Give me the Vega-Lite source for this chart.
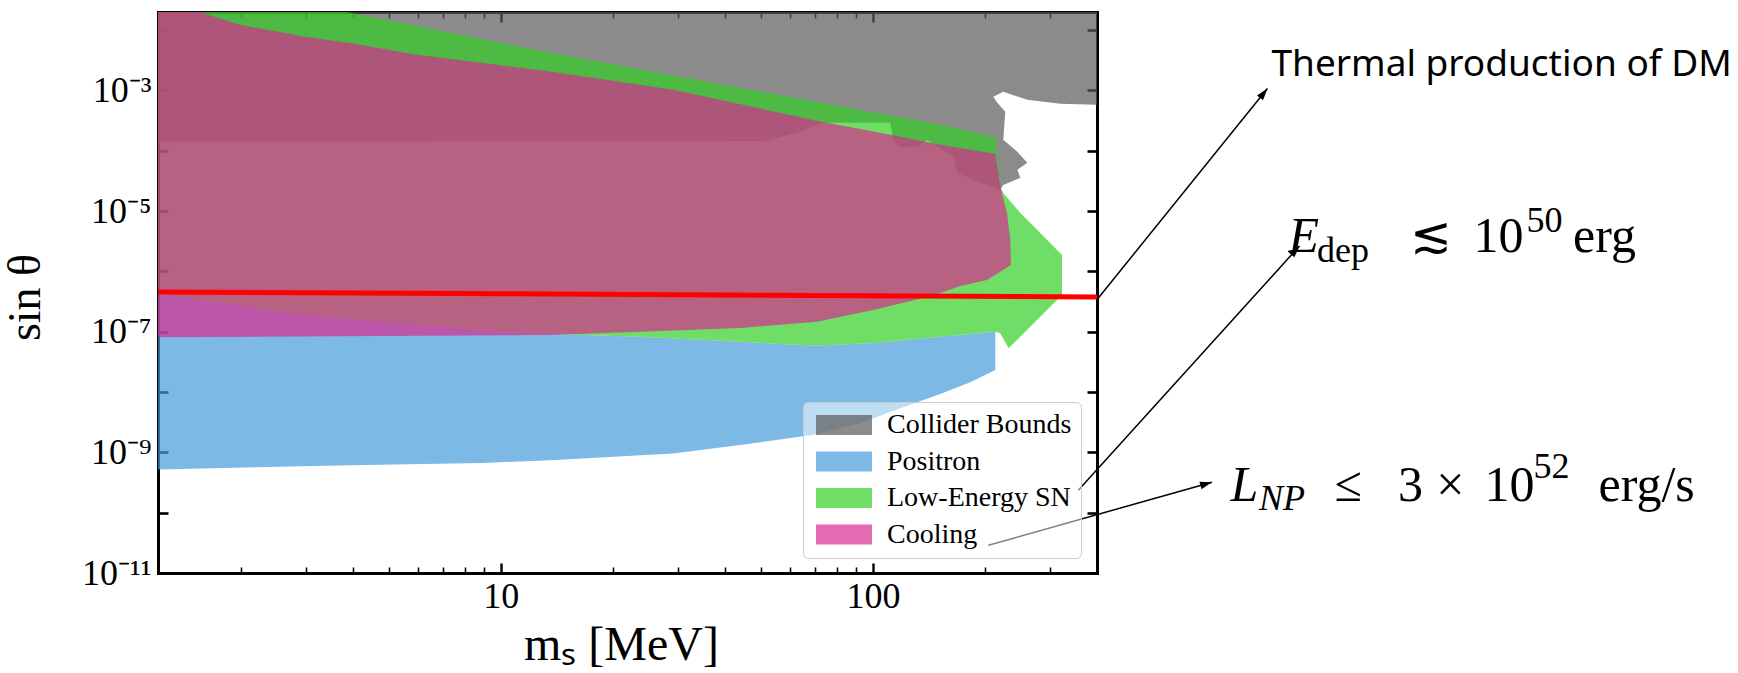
{
  "$schema": "https://vega.github.io/schema/vega-lite/v6.json",
  "width": 939,
  "height": 561,
  "autosize": "none",
  "padding": {"left": 158, "top": 12, "right": 641, "bottom": 100},
  "background": "white",
  "config": {
    "view": {"stroke": null},
    "axis": {
      "grid": false, "zindex": 1, "labelFont": "Liberation Serif", "titleFont": "Liberation Serif",
      "labelColor": "black", "titleColor": "black", "tickColor": "black", "domainColor": "black",
      "labelFlush": false, "labelOverlap": false, "titleFontWeight": "normal"
    }
  },
  "datasets": {
    "regions": [
      {"region": "Collider Bounds", "i": 0, "m": 1.0, "s": 0.05},
      {"region": "Collider Bounds", "i": 1, "m": 500, "s": 0.05},
      {"region": "Collider Bounds", "i": 2, "m": 500, "s": 5.57e-4},
      {"region": "Collider Bounds", "i": 3, "m": 318.8, "s": 6.02e-4},
      {"region": "Collider Bounds", "i": 4, "m": 259.9, "s": 7.01e-4},
      {"region": "Collider Bounds", "i": 5, "m": 224.0, "s": 9.52e-4},
      {"region": "Collider Bounds", "i": 6, "m": 210.6, "s": 7.86e-4},
      {"region": "Collider Bounds", "i": 7, "m": 215.9, "s": 6.25e-4},
      {"region": "Collider Bounds", "i": 8, "m": 226.8, "s": 4.43e-4},
      {"region": "Collider Bounds", "i": 9, "m": 224.0, "s": 1.52e-4},
      {"region": "Collider Bounds", "i": 10, "m": 244.3, "s": 9.61e-5},
      {"region": "Collider Bounds", "i": 11, "m": 259.9, "s": 6.31e-5},
      {"region": "Collider Bounds", "i": 12, "m": 244.3, "s": 4.83e-5},
      {"region": "Collider Bounds", "i": 13, "m": 248.9, "s": 3.56e-5},
      {"region": "Collider Bounds", "i": 14, "m": 224.0, "s": 2.72e-5},
      {"region": "Collider Bounds", "i": 15, "m": 219.9, "s": 2.25e-5},
      {"region": "Collider Bounds", "i": 16, "m": 190.8, "s": 3.05e-5},
      {"region": "Collider Bounds", "i": 17, "m": 168.5, "s": 4.31e-5},
      {"region": "Collider Bounds", "i": 18, "m": 164.4, "s": 7.93e-5},
      {"region": "Collider Bounds", "i": 19, "m": 140.0, "s": 1.52e-4},
      {"region": "Collider Bounds", "i": 20, "m": 131.6, "s": 1.12e-4},
      {"region": "Collider Bounds", "i": 21, "m": 118.4, "s": 1.16e-4},
      {"region": "Collider Bounds", "i": 22, "m": 113.4, "s": 1.52e-4},
      {"region": "Collider Bounds", "i": 23, "m": 111.3, "s": 2.91e-4},
      {"region": "Collider Bounds", "i": 24, "m": 73.5, "s": 2.91e-4},
      {"region": "Collider Bounds", "i": 25, "m": 63.8, "s": 2.06e-4},
      {"region": "Collider Bounds", "i": 26, "m": 51.7, "s": 1.46e-4},
      {"region": "Collider Bounds", "i": 27, "m": 1.0, "s": 1.42e-4},

      {"region": "Positron", "i": 0, "m": 1.0, "s": 4.2e-7},
      {"region": "Positron", "i": 1, "m": 1.2, "s": 4.2e-7},
      {"region": "Positron", "i": 2, "m": 3.01, "s": 1.89e-7},
      {"region": "Positron", "i": 3, "m": 10.0, "s": 1.0e-7},
      {"region": "Positron", "i": 4, "m": 13.57, "s": 9.16e-8},
      {"region": "Positron", "i": 5, "m": 23.7, "s": 8.26e-8},
      {"region": "Positron", "i": 6, "m": 44.0, "s": 6.82e-8},
      {"region": "Positron", "i": 7, "m": 70.7, "s": 5.86e-8},
      {"region": "Positron", "i": 8, "m": 100.2, "s": 6.49e-8},
      {"region": "Positron", "i": 9, "m": 151.7, "s": 8.26e-8},
      {"region": "Positron", "i": 10, "m": 213.2, "s": 1.0e-7},
      {"region": "Positron", "i": 11, "m": 213.2, "s": 2.31e-8},
      {"region": "Positron", "i": 12, "m": 182.6, "s": 1.46e-8},
      {"region": "Positron", "i": 13, "m": 151.7, "s": 9.25e-9},
      {"region": "Positron", "i": 14, "m": 118.4, "s": 5.41e-9},
      {"region": "Positron", "i": 15, "m": 92.4, "s": 3.05e-9},
      {"region": "Positron", "i": 16, "m": 70.7, "s": 2.0e-9},
      {"region": "Positron", "i": 17, "m": 44.0, "s": 1.32e-9},
      {"region": "Positron", "i": 18, "m": 29.05, "s": 9.59e-10},
      {"region": "Positron", "i": 19, "m": 13.57, "s": 7.42e-10},
      {"region": "Positron", "i": 20, "m": 8.96, "s": 6.69e-10},
      {"region": "Positron", "i": 21, "m": 3.93, "s": 6.13e-10},
      {"region": "Positron", "i": 22, "m": 1.0, "s": 5.07e-10},

      {"region": "Low-Energy SN", "i": 0, "m": 1.0, "s": 0.05},
      {"region": "Low-Energy SN", "i": 1, "m": 3.86, "s": 0.05},
      {"region": "Low-Energy SN", "i": 2, "m": 3.86, "s": 0.02},
      {"region": "Low-Energy SN", "i": 3, "m": 13.57, "s": 4.22e-3},
      {"region": "Low-Energy SN", "i": 4, "m": 151.7, "s": 2.70e-4},
      {"region": "Low-Energy SN", "i": 5, "m": 213.2, "s": 1.70e-4},
      {"region": "Low-Energy SN", "i": 6, "m": 219.9, "s": 2.52e-5},
      {"region": "Low-Energy SN", "i": 7, "m": 224.0, "s": 2.0e-5},
      {"region": "Low-Energy SN", "i": 8, "m": 248.9, "s": 9.34e-6},
      {"region": "Low-Energy SN", "i": 9, "m": 276.5, "s": 4.88e-6},
      {"region": "Low-Energy SN", "i": 10, "m": 322.2, "s": 1.87e-6},
      {"region": "Low-Energy SN", "i": 11, "m": 322.2, "s": 4.06e-7},
      {"region": "Low-Energy SN", "i": 12, "m": 231.4, "s": 5.30e-8},
      {"region": "Low-Energy SN", "i": 13, "m": 219.9, "s": 9.40e-8},
      {"region": "Low-Energy SN", "i": 14, "m": 213.2, "s": 1.0e-7},
      {"region": "Low-Energy SN", "i": 15, "m": 151.7, "s": 8.26e-8},
      {"region": "Low-Energy SN", "i": 16, "m": 100.2, "s": 6.49e-8},
      {"region": "Low-Energy SN", "i": 17, "m": 70.7, "s": 5.86e-8},
      {"region": "Low-Energy SN", "i": 18, "m": 44.0, "s": 6.82e-8},
      {"region": "Low-Energy SN", "i": 19, "m": 23.7, "s": 8.26e-8},
      {"region": "Low-Energy SN", "i": 20, "m": 13.57, "s": 9.16e-8},
      {"region": "Low-Energy SN", "i": 21, "m": 10.0, "s": 1.0e-7},
      {"region": "Low-Energy SN", "i": 22, "m": 3.01, "s": 1.89e-7},
      {"region": "Low-Energy SN", "i": 23, "m": 1.2, "s": 4.2e-7},
      {"region": "Low-Energy SN", "i": 24, "m": 1.0, "s": 4.2e-7},

      {"region": "Cooling", "i": 0, "m": 1.0, "s": 0.05},
      {"region": "Cooling", "i": 1, "m": 1.555, "s": 0.05},
      {"region": "Cooling", "i": 2, "m": 1.555, "s": 0.02},
      {"region": "Cooling", "i": 3, "m": 1.991, "s": 1.232e-2},
      {"region": "Cooling", "i": 4, "m": 3.01, "s": 7.69e-3},
      {"region": "Cooling", "i": 5, "m": 3.93, "s": 6.12e-3},
      {"region": "Cooling", "i": 6, "m": 5.946, "s": 3.91e-3},
      {"region": "Cooling", "i": 7, "m": 8.96, "s": 2.85e-3},
      {"region": "Cooling", "i": 8, "m": 13.57, "s": 2.07e-3},
      {"region": "Cooling", "i": 9, "m": 29.05, "s": 1.027e-3},
      {"region": "Cooling", "i": 10, "m": 72.2, "s": 3.06e-4},
      {"region": "Cooling", "i": 11, "m": 92.4, "s": 2.29e-4},
      {"region": "Cooling", "i": 12, "m": 111.3, "s": 1.84e-4},
      {"region": "Cooling", "i": 13, "m": 151.7, "s": 1.26e-4},
      {"region": "Cooling", "i": 14, "m": 213.2, "s": 8.90e-5},
      {"region": "Cooling", "i": 15, "m": 219.9, "s": 2.55e-5},
      {"region": "Cooling", "i": 16, "m": 229.2, "s": 9.34e-6},
      {"region": "Cooling", "i": 17, "m": 233.9, "s": 3.33e-6},
      {"region": "Cooling", "i": 18, "m": 234.9, "s": 1.28e-6},
      {"region": "Cooling", "i": 19, "m": 202.5, "s": 7.21e-7},
      {"region": "Cooling", "i": 20, "m": 171.7, "s": 5.73e-7},
      {"region": "Cooling", "i": 21, "m": 151.7, "s": 4.39e-7},
      {"region": "Cooling", "i": 22, "m": 136.6, "s": 3.62e-7},
      {"region": "Cooling", "i": 23, "m": 100.2, "s": 2.29e-7},
      {"region": "Cooling", "i": 24, "m": 70.7, "s": 1.47e-7},
      {"region": "Cooling", "i": 25, "m": 44.0, "s": 1.15e-7},
      {"region": "Cooling", "i": 26, "m": 23.7, "s": 1.0e-7},
      {"region": "Cooling", "i": 27, "m": 13.57, "s": 8.81e-8},
      {"region": "Cooling", "i": 28, "m": 1.0, "s": 8.01e-8}
    ],
    "thermal": [
      {"m": 1.2, "s": 4.56e-7},
      {"m": 400, "s": 3.77e-7}
    ],
    "arrows": [
      {"target": "Thermal production of DM", "m": 403.3, "s": 3.62e-7, "m2": 1148, "s2": 1.079e-3},
      {"target": "E_dep", "m": 356.3, "s": 2.36e-10, "m2": 1400, "s2": 2.645e-6},
      {"target": "L_NP", "m": 204.2, "s": 2.88e-11, "m2": 814.4, "s2": 3.2e-10}
    ],
    "sans": [
      {"text": "Thermal production of DM", "m": 1177, "s": 1.754e-3}
    ],
    "mathMain": [
      {"text": "≲", "m": 2782, "s": 2.1e-6},
      {"text": "10", "m": 4109, "s": 2.1e-6},
      {"text": "erg", "m": 7600, "s": 2.1e-6},
      {"text": "≤", "m": 1738, "s": 1.549e-10},
      {"text": "3", "m": 2575, "s": 1.549e-10},
      {"text": "×", "m": 3261, "s": 1.549e-10},
      {"text": "10", "m": 4399, "s": 1.549e-10},
      {"text": "erg/s", "m": 8900, "s": 1.549e-10}
    ],
    "mathItalic": [
      {"text": "E", "m": 1307.5, "s": 2.1e-6},
      {"text": "L", "m": 913, "s": 1.549e-10}
    ],
    "mathSub": [
      {"text": "dep", "m": 1560, "s": 1.435e-6}
    ],
    "mathSubItalic": [
      {"text": "NP", "m": 1090, "s": 1.098e-10}
    ],
    "mathSup": [
      {"text": "50", "m": 5705, "s": 4.52e-6},
      {"text": "52", "m": 5957, "s": 3.73e-10}
    ]
  },
  "resolve": {"axis": {"x": "independent", "y": "independent"}},
  "layer": [
    {
      "data": {"name": "regions"},
      "transform": [{"filter": "datum.region === 'Collider Bounds'"}],
      "mark": {"type": "line", "filled": true, "interpolate": "linear-closed", "opacity": 0.7, "strokeWidth": 0, "clip": true},
      "encoding": {
        "x": {"field": "m", "type": "quantitative", "scale": {"type": "log", "domain": [1.2, 400], "nice": false},
          "axis": {"orient": "bottom", "values": [10, 100], "ticks": false, "domain": true, "domainWidth": 3, "domainCap": "square",
            "labelFontSize": 36, "labelPadding": 6, "labelExpr": "datum.value < 50 ? '10' : '100'",
            "title": "mₛ [MeV]", "titleFontSize": 48, "titleX": 463, "titleY": 72, "titleBaseline": "middle", "titleAlign": "center"}},
        "y": {"field": "s", "type": "quantitative", "scale": {"type": "log", "domain": [1e-11, 0.02], "nice": false},
          "axis": {"orient": "left", "values": [1e-11, 1e-9, 1e-7, 1e-5, 1e-3], "ticks": false, "domain": true, "domainWidth": 3, "domainCap": "square",
            "labelFontSize": 36, "labelPadding": 7,
            "labelExpr": "datum.value < 2e-11 ? '10⁻¹¹' : datum.value < 2e-9 ? '10⁻⁹' : datum.value < 2e-7 ? '10⁻⁷' : datum.value < 2e-5 ? '10⁻⁵' : '10⁻³'",
            "title": "sin θ", "titleFontSize": 46, "titleX": -133, "titleY": 285, "titleAngle": -90, "titleBaseline": "middle", "titleAlign": "center"}},
        "order": {"field": "i", "type": "quantitative"},
        "color": {"field": "region", "type": "nominal",
          "scale": {"domain": ["Collider Bounds", "Positron", "Low-Energy SN", "Cooling"], "range": ["#5a5a5a", "#459bd8", "#33ce27", "#d52c90"]},
          "legend": {"orient": "none", "legendX": 645, "legendY": 390, "title": null,
            "symbolType": "M-1,-1L4.6,-1L4.6,1L-1,1Z", "symbolSize": 400, "symbolOpacity": 0.7, "symbolStrokeWidth": 0,
            "labelFont": "Liberation Serif", "labelFontSize": 28, "labelColor": "black", "labelOffset": 47, "labelLimit": 400,
            "rowPadding": 8.5, "padding": 9, "fillColor": "rgba(255,255,255,0.5)", "strokeColor": "#cccccc", "cornerRadius": 5}}
      }
    },
    {
      "data": {"name": "regions"},
      "transform": [{"filter": "datum.region === 'Positron'"}],
      "mark": {"type": "line", "filled": true, "interpolate": "linear-closed", "opacity": 0.7, "strokeWidth": 0, "clip": true},
      "encoding": {
        "x": {"field": "m", "type": "quantitative", "scale": {"type": "log", "domain": [1.2, 400], "nice": false},
          "axis": {"orient": "bottom", "values": [10, 100], "labels": false, "domain": false, "tickSize": -10, "tickWidth": 2.4, "title": null}},
        "y": {"field": "s", "type": "quantitative", "scale": {"type": "log", "domain": [1e-11, 0.02], "nice": false},
          "axis": {"orient": "left", "values": [1e-11, 1e-10, 1e-9, 1e-8, 1e-7, 1e-6, 1e-5, 1e-4, 1e-3, 1e-2], "labels": false, "domain": false, "tickSize": -10, "tickWidth": 2.6, "title": null}},
        "order": {"field": "i", "type": "quantitative"},
        "color": {"field": "region", "type": "nominal"}
      }
    },
    {
      "data": {"name": "regions"},
      "transform": [{"filter": "datum.region === 'Low-Energy SN'"}],
      "mark": {"type": "line", "filled": true, "interpolate": "linear-closed", "opacity": 0.7, "strokeWidth": 0, "clip": true},
      "encoding": {
        "x": {"field": "m", "type": "quantitative", "scale": {"type": "log", "domain": [1.2, 400], "nice": false},
          "axis": {"orient": "bottom", "values": [2, 3, 4, 5, 6, 7, 8, 9, 20, 30, 40, 50, 60, 70, 80, 90, 200, 300], "labels": false, "domain": false, "tickSize": -6, "tickWidth": 1.6, "title": null}},
        "y": {"field": "s", "type": "quantitative", "scale": {"type": "log", "domain": [1e-11, 0.02], "nice": false},
          "axis": {"orient": "right", "values": [1e-11, 1e-10, 1e-9, 1e-8, 1e-7, 1e-6, 1e-5, 1e-4, 1e-3, 1e-2], "labels": false, "domain": true, "domainWidth": 3, "domainCap": "square", "tickSize": -10, "tickWidth": 2.6, "title": null}},
        "order": {"field": "i", "type": "quantitative"},
        "color": {"field": "region", "type": "nominal"}
      }
    },
    {
      "data": {"name": "regions"},
      "transform": [{"filter": "datum.region === 'Cooling'"}],
      "mark": {"type": "line", "filled": true, "interpolate": "linear-closed", "opacity": 0.7, "strokeWidth": 0, "clip": true},
      "encoding": {
        "x": {"field": "m", "type": "quantitative", "scale": {"type": "log", "domain": [1.2, 400], "nice": false},
          "axis": {"orient": "top", "values": [10, 100], "labels": false, "domain": true, "domainWidth": 3, "domainCap": "square", "tickSize": -10, "tickWidth": 2.4, "title": null}},
        "y": {"field": "s", "type": "quantitative", "scale": {"type": "log", "domain": [1e-11, 0.02], "nice": false}, "axis": null},
        "order": {"field": "i", "type": "quantitative"},
        "color": {"field": "region", "type": "nominal"}
      }
    },
    {
      "data": {"name": "thermal"},
      "mark": {"type": "line", "color": "#ff0000", "strokeWidth": 5, "clip": true},
      "encoding": {
        "x": {"field": "m", "type": "quantitative", "scale": {"type": "log", "domain": [1.2, 400], "nice": false},
          "axis": {"orient": "top", "values": [2, 3, 4, 5, 6, 7, 8, 9, 20, 30, 40, 50, 60, 70, 80, 90, 200, 300], "labels": false, "domain": false, "tickSize": -6, "tickWidth": 1.6, "title": null}},
        "y": {"field": "s", "type": "quantitative", "scale": {"type": "log", "domain": [1e-11, 0.02], "nice": false}, "axis": null}
      }
    },
    {
      "data": {"name": "arrows"},
      "mark": {"type": "rule", "color": "black", "strokeWidth": 1.5},
      "encoding": {
        "x": {"field": "m", "type": "quantitative", "scale": {"type": "log", "domain": [1.2, 400], "nice": false}, "axis": null},
        "y": {"field": "s", "type": "quantitative", "scale": {"type": "log", "domain": [1e-11, 0.02], "nice": false}, "axis": null},
        "x2": {"field": "m2"},
        "y2": {"field": "s2"}
      }
    },
    {
      "data": {"name": "arrows"},
      "transform": [{"filter": "datum.target === 'Thermal production of DM'"}],
      "mark": {"type": "point", "shape": "M0,0L0.55,1.7L-0.55,1.7Z", "filled": true, "color": "black", "opacity": 1, "size": 196, "angle": 38.6, "strokeWidth": 0},
      "encoding": {
        "x": {"field": "m2", "type": "quantitative", "scale": {"type": "log", "domain": [1.2, 400], "nice": false}, "axis": null},
        "y": {"field": "s2", "type": "quantitative", "scale": {"type": "log", "domain": [1e-11, 0.02], "nice": false}, "axis": null}
      }
    },
    {
      "data": {"name": "arrows"},
      "transform": [{"filter": "datum.target === 'E_dep'"}],
      "mark": {"type": "point", "shape": "M0,0L0.55,1.7L-0.55,1.7Z", "filled": true, "color": "black", "opacity": 1, "size": 196, "angle": 42.2, "strokeWidth": 0},
      "encoding": {
        "x": {"field": "m2", "type": "quantitative", "scale": {"type": "log", "domain": [1.2, 400], "nice": false}, "axis": null},
        "y": {"field": "s2", "type": "quantitative", "scale": {"type": "log", "domain": [1e-11, 0.02], "nice": false}, "axis": null}
      }
    },
    {
      "data": {"name": "arrows"},
      "transform": [{"filter": "datum.target === 'L_NP'"}],
      "mark": {"type": "point", "shape": "M0,0L0.55,1.7L-0.55,1.7Z", "filled": true, "color": "black", "opacity": 1, "size": 196, "angle": 74.3, "strokeWidth": 0},
      "encoding": {
        "x": {"field": "m2", "type": "quantitative", "scale": {"type": "log", "domain": [1.2, 400], "nice": false}, "axis": null},
        "y": {"field": "s2", "type": "quantitative", "scale": {"type": "log", "domain": [1e-11, 0.02], "nice": false}, "axis": null}
      }
    },
    {
      "data": {"name": "sans"},
      "mark": {"type": "text", "font": "Noto Sans", "fontSize": 37, "align": "left", "baseline": "alphabetic", "color": "black"},
      "encoding": {
        "x": {"field": "m", "type": "quantitative", "scale": {"type": "log", "domain": [1.2, 400], "nice": false}, "axis": null},
        "y": {"field": "s", "type": "quantitative", "scale": {"type": "log", "domain": [1e-11, 0.02], "nice": false}, "axis": null},
        "text": {"field": "text"}
      }
    },
    {
      "data": {"name": "mathMain"},
      "mark": {"type": "text", "font": "Liberation Serif", "fontSize": 50, "align": "left", "baseline": "alphabetic", "color": "black"},
      "encoding": {
        "x": {"field": "m", "type": "quantitative", "scale": {"type": "log", "domain": [1.2, 400], "nice": false}, "axis": null},
        "y": {"field": "s", "type": "quantitative", "scale": {"type": "log", "domain": [1e-11, 0.02], "nice": false}, "axis": null},
        "text": {"field": "text"}
      }
    },
    {
      "data": {"name": "mathItalic"},
      "mark": {"type": "text", "font": "Liberation Serif", "fontSize": 50, "fontStyle": "italic", "align": "left", "baseline": "alphabetic", "color": "black"},
      "encoding": {
        "x": {"field": "m", "type": "quantitative", "scale": {"type": "log", "domain": [1.2, 400], "nice": false}, "axis": null},
        "y": {"field": "s", "type": "quantitative", "scale": {"type": "log", "domain": [1e-11, 0.02], "nice": false}, "axis": null},
        "text": {"field": "text"}
      }
    },
    {
      "data": {"name": "mathSub"},
      "mark": {"type": "text", "font": "Liberation Serif", "fontSize": 36, "align": "left", "baseline": "alphabetic", "color": "black"},
      "encoding": {
        "x": {"field": "m", "type": "quantitative", "scale": {"type": "log", "domain": [1.2, 400], "nice": false}, "axis": null},
        "y": {"field": "s", "type": "quantitative", "scale": {"type": "log", "domain": [1e-11, 0.02], "nice": false}, "axis": null},
        "text": {"field": "text"}
      }
    },
    {
      "data": {"name": "mathSubItalic"},
      "mark": {"type": "text", "font": "Liberation Serif", "fontSize": 36, "fontStyle": "italic", "align": "left", "baseline": "alphabetic", "color": "black"},
      "encoding": {
        "x": {"field": "m", "type": "quantitative", "scale": {"type": "log", "domain": [1.2, 400], "nice": false}, "axis": null},
        "y": {"field": "s", "type": "quantitative", "scale": {"type": "log", "domain": [1e-11, 0.02], "nice": false}, "axis": null},
        "text": {"field": "text"}
      }
    },
    {
      "data": {"name": "mathSup"},
      "mark": {"type": "text", "font": "Liberation Serif", "fontSize": 36, "align": "left", "baseline": "alphabetic", "color": "black"},
      "encoding": {
        "x": {"field": "m", "type": "quantitative", "scale": {"type": "log", "domain": [1.2, 400], "nice": false}, "axis": null},
        "y": {"field": "s", "type": "quantitative", "scale": {"type": "log", "domain": [1e-11, 0.02], "nice": false}, "axis": null},
        "text": {"field": "text"}
      }
    }
  ]
}
